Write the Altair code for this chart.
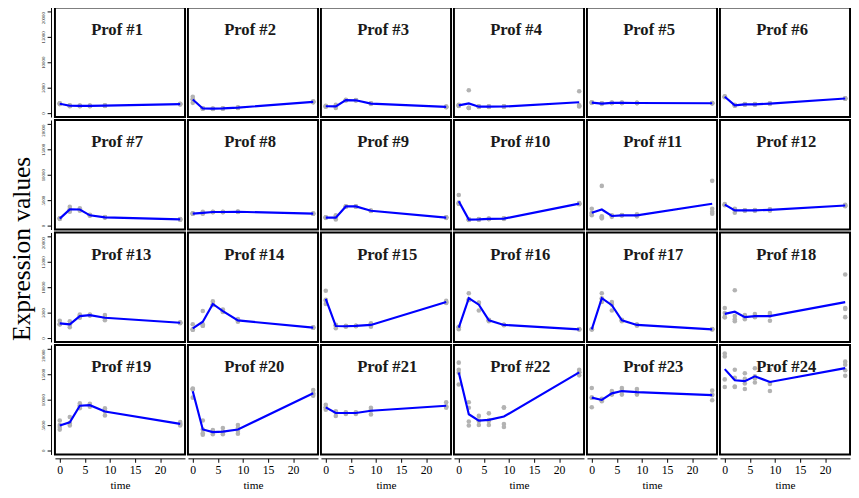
import altair as alt
import pandas as pd

TIMES = [0, 2, 4, 6, 9, 24]

P01 = [[1900,1800,1850,1750],[1400,1350,1500,1450],[1400,1350,1450,1400],[1400,1350,1450,1400],[1450,1500,1400,1450],[1800,1700,1750,1750]]
P02 = [[3200,2000,2700,2700],[900,850,950,900],[850,900,800,850],[900,850,950,900],[1100,1050,1000,1050],[2300,2100,2200,2200]]
P03 = [[1300,1250,1400,1350],[1000,1600,1300,1300],[2600,2500,2450,2550],[2500,2550,2450,2500],[1850,1800,1900,1850],[1200,1150,1250,1200]]
P04 = [[1600,1400,1500,1500],[4500,1050,1000,1000],[1250,1200,1300,1250],[1250,1300,1200,1250],[1300,1250,1250,1300],[4300,1400,1500,1300]]
P05 = [[2100,2000,2050,2050],[1800,1900,1850,1900],[2000,2050,1950,2000],[2000,2050,1950,2000],[2000,1950,2000,1950],[1900,1950,1900,1950]]
P06 = [[3300,3100,3200,3200],[1600,1500,1450,1500],[1700,1650,1750,1700],[1700,1750,1650,1700],[1900,1850,1800,1850],[2900,2800,2850,2850]]
P07 = [[1400,1300,1350,1350],[3700,2700,3100,3200],[3400,2900,3200,3100],[2100,1900,2000,2000],[1600,1650,1550,1600],[1200,1250,1200,1150]]
P08 = [[2300,2400,2300,2350],[2700,2300,2400,2500],[2650,2600,2700,2650],[2650,2700,2600,2650],[2700,2750,2650,2700],[2300,2350,2300,2350]]
P09 = [[1600,1500,1550,1550],[2000,1200,1450,1550],[3800,3700,3750,3750],[3800,3700,3750,3750],[2900,2850,2950,2900],[1500,1600,1550,1550]]
P10 = [[6000,4300,4500,4300],[1200,1100,1150,1150],[1200,1150,1250,1200],[1300,1250,1350,1300],[1400,1350,1300,1350],[4400,4200,4300,4300]]
P11 = [[3300,2300,2500,2000],[7800,1600,1400,1800],[1900,1700,1950,1950],[2000,1950,2000,2050],[2200,1800,2000,2000],[8800,3300,2300,2700]]
P12 = [[4100,4000,4200,4100],[3300,2500,3000,3100],[2900,3000,2950,3000],[2950,3000,2900,3050],[3200,2900,3100,3150],[4100,3800,3900,3950]]
P13 = [[3400,2700,2700,2700],[3300,2100,2600,2700],[4600,4000,4300,4300],[4500,4400,4600,4500],[4500,3500,4000,3900],[3100,2900,3000,3000]]
P14 = [[2700,1600,1600,1700],[5300,2700,2400,2400],[7200,6500,6600,6500],[5600,5100,5300,5200],[3700,3200,3500,3400],[2100,2000,2050,2000]]
P15 = [[9300,6700,7400,7500],[2600,1900,2500,2400],[2300,2400,2200,2300],[2400,2300,2350,2400],[2900,2200,2600,2550],[7300,6900,7000,7100]]
P16 = [[2100,1700,2200,2100],[8800,7500,7600,7500],[6900,5400,7000,6900],[3500,3300,3600,3500],[2600,2500,2550,2600],[1700,1650,1750,1700]]
P17 = [[1700,1650,1750,1700],[8800,7100,7800,7700],[7100,5400,6700,6600],[3500,3300,3600,3500],[2600,2400,2600,2650],[1700,1750,1650,1700]]
P18 = [[5900,4900,4100,4100],[9400,4300,3700,3300],[4500,4000,3700,4200],[4700,4100,4200,4200],[4900,3400,4500,4400],[12500,5700,5900,4100]]
P19 = [[5900,5000,4100,4600],[6600,4900,5300,5400],[9300,8300,8900,8700],[9200,8600,9000,8900],[8300,6900,7700,7800],[5600,4900,5200,5200]]
P20 = [[12200,10400,12000,12100],[5900,3100,3400,4100],[4000,3200,3600,3650],[4400,3200,3600,3600],[5000,3300,4400,3800],[11900,10800,11200,11100]]
P21 = [[9000,8000,8500,8400],[7700,6800,7500,7500],[7500,7200,7400,7400],[7500,7200,7400,7400],[8400,7100,7900,7900],[9500,8400,8600,8700]]
P22 = [[17300,15900,13000,15300],[9500,8400,5700,4900],[6800,5000,5800,5900],[7300,5000,6000,5800],[8400,5200,4600,8500],[15900,14800,15400,15400]]
P23 = [[12300,10400,8500,10400],[10200,9700,9900,10000],[11700,11000,11200,11100],[12300,11000,11800,11700],[12100,11000,11500,11400],[11800,9900,10900,11000]]
P24 = [[19100,18500,14000,12500],[15900,14300,12500,12600],[15200,14100,13200,12100],[16200,14600,13400,14200],[15900,13300,11700,13100],[17500,16900,14700,15800]]

PROFILES = [P01, P02, P03, P04, P05, P06, P07, P08, P09, P10, P11, P12,
            P13, P14, P15, P16, P17, P18, P19, P20, P21, P22, P23, P24]
LABELS = [f"Prof #{i}" for i in range(1, 25)]
X_TICKS = [0, 5, 10, 15, 20]
Y_TICKS = [0, 5000, 10000, 15000, 20000]

rows = []
for label, prof in zip(LABELS, PROFILES):
    for t, reps in zip(TIMES, prof):
        for r, v in enumerate(reps):
            rows.append({"prof": label, "time": t, "rep": r, "value": v})
df = pd.DataFrame(rows)

FONT = "Liberation Serif"

x_scale = alt.Scale(domain=[-0.96, 24.96], nice=False, zero=False)
y_scale = alt.Scale(domain=[-800, 20800], nice=False, zero=False)

x_axis = alt.Axis(values=X_TICKS, title="time", grid=False, offset=3, tickSize=4,
                  labelPadding=2, titlePadding=5, labelFontSize=12, titleFontSize=11.5,
                  labelFlush=False, domainColor="black", tickColor="black")
y_axis = alt.Axis(values=Y_TICKS, title=None, grid=False, offset=3, tickSize=4,
                  labelPadding=2, labelAngle=270, labelFontSize=5, format="d",
                  labelAlign={"condition": {"test": "datum.value >= 20000", "value": "right"},
                              "value": "center"},
                  labelFlush=False, domainColor="black", tickColor="black")

points = alt.Chart().mark_circle(size=22, color="#b3b3b3", opacity=1).encode(
    x=alt.X("time:Q", scale=x_scale, axis=x_axis),
    y=alt.Y("value:Q", scale=y_scale, axis=y_axis),
)

line = alt.Chart().mark_line(color="#0000ff", strokeWidth=2.2).encode(
    x=alt.X("time:Q", scale=x_scale, axis=x_axis),
    y=alt.Y("mean(value):Q", scale=y_scale, axis=y_axis),
)

label = alt.Chart().transform_aggregate(
    n="count()", groupby=["prof"]
).mark_text(font=FONT, fontSize=17, fontWeight="bold", color="#1a1a1a",
            align="left", baseline="alphabetic").encode(
    text="prof:N", x=alt.value(37), y=alt.value(28)
)

chart = alt.layer(points, line, label).properties(width=133, height=112).facet(
    facet=alt.Facet("prof:N", sort=LABELS, title=None,
                    header=alt.Header(labels=False, labelFontSize=0, labelPadding=0,
                                      labelExpr="''")),
    columns=6,
    spacing=1,
    data=df,
).properties(
    padding={"top": -7, "left": 0, "right": 0, "bottom": 0},
    title=alt.TitleParams("Expression values", orient="left", anchor="middle",
                          font=FONT, fontSize=26, fontWeight="normal",
                          color="black", offset=6),
).configure_view(
    stroke="black", strokeWidth=2
).configure_header(
    labels=False, labelFontSize=0, labelPadding=0
).configure_axis(
    labelFont=FONT, titleFont=FONT, labelColor="black", titleColor="black",
    titleFontWeight="normal"
)

chart.save("out.html", embed_options={"renderer": "svg", "actions": False})
